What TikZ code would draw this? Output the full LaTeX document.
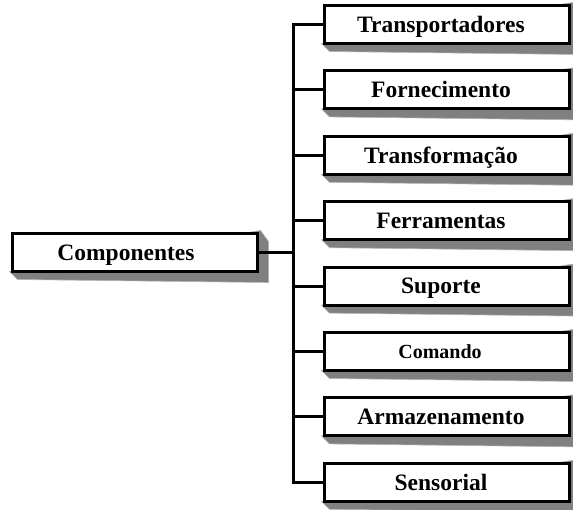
\documentclass[tikz,border=0pt]{standalone}
\usepackage{fontspec}
\setmainfont{Liberation Serif}
\usetikzlibrary{backgrounds}
\tikzset{
  box/.style={rectangle, draw=black, line width=3pt, fill=white, inner sep=0pt,
    minimum width=245pt, minimum height=38pt},
  lbl/.style={inner sep=0pt, font=\fontsize{23.5}{28}\selectfont\bfseries,
    text height=15.5pt, text depth=0pt},
  smalllbl/.style={lbl, font=\fontsize{20}{24}\selectfont\bfseries, text height=13.2pt},
  conn/.style={draw=black, line width=3pt, line join=miter},
  shade/.style={fill=gray, draw=gray!60, line width=0.6pt}
}
\newcommand{\boxshadow}[1]{%
  \begin{scope}[on background layer]
    \path[shade] ([xshift=-1.5pt,yshift=1.5pt]#1.south west) -- ++(8,8) -- ([xshift=9.5pt,yshift=-9.5pt]#1.south east) -- ([xshift=9.5pt,yshift=-9.5pt]#1.north east) -- ([xshift=1.5pt,yshift=1.5pt]#1.north east) -- cycle;
  \end{scope}}
\begin{document}
\begin{tikzpicture}[x=1pt,y=-1pt]
\useasboundingbox (0,0) rectangle (573,509);
\coordinate (trunk) at (293,0);
% main box
\node[box] (comp) at (135,252.5) {};
\node[lbl] (tcomp) at (126,252.5) {Componentes};
\boxshadow{comp}
% right boxes
\foreach \i/\t in {0/Transportadores,1/Fornecimento,2/Transformação,3/Ferramentas,4/Suporte,6/Armazenamento,7/Sensorial}{
  \node[box] (b\i) at (447,{24.5+65.4*\i}) {};
  \node[lbl] (t\i) at (441,{24.5+65.4*\i}) {\t};
  \boxshadow{b\i}
}
\node[box] (b5) at (447,{24.5+65.4*5}) {};
\node[smalllbl] (t5) at (440,{24.5+65.4*5}) {Comando};
\boxshadow{b5}
% connectors
\draw[conn] (b0.west) -- (b0.west -| trunk) -- (b7.west -| trunk) -- (b7.west);
\foreach \i in {1,...,6}{
  \draw[conn] (b\i.west) -- (b\i.west -| trunk);
}
\draw[conn] (comp.east) -- (comp.east -| trunk);
\end{tikzpicture}
\end{document}
